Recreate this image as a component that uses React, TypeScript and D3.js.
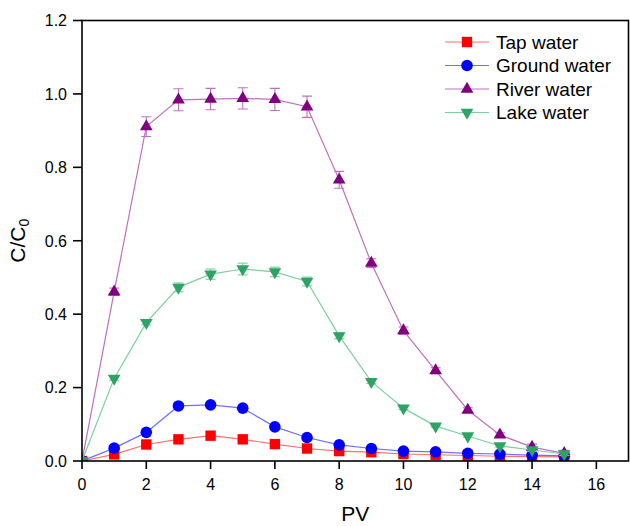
import React from "react";
import * as d3 from "d3";

const pv = [0, 1, 2, 3, 4, 5, 6, 7, 8, 9, 10, 11, 12, 13, 14, 15];
const tapWater = [0, 0.018, 0.045, 0.059, 0.069, 0.059, 0.046, 0.034, 0.027, 0.024, 0.019, 0.017, 0.015, 0.013, 0.012, 0.011];
const tapErr = [0, 0.002, 0.003, 0.003, 0.003, 0.003, 0.003, 0.003, 0.002, 0.002, 0.002, 0.004, 0.004, 0.004, 0.004, 0.004];
const groundWater = [0, 0.035, 0.078, 0.15, 0.153, 0.144, 0.093, 0.064, 0.044, 0.034, 0.027, 0.025, 0.021, 0.019, 0.016, 0.014];
const groundErr = [0, 0.002, 0.003, 0.004, 0.004, 0.004, 0.003, 0.003, 0.002, 0.002, 0.002, 0.002, 0.002, 0.002, 0.002, 0.002];
const riverWater = [0, 0.461, 0.911, 0.984, 0.986, 0.988, 0.985, 0.965, 0.766, 0.539, 0.355, 0.246, 0.139, 0.071, 0.038, 0.021];
const riverErr = [0, 0.01, 0.027, 0.03, 0.029, 0.029, 0.03, 0.029, 0.023, 0.012, 0.01, 0.008, 0.006, 0.006, 0.008, 0.008];
const lakeWater = [0, 0.225, 0.377, 0.473, 0.509, 0.523, 0.515, 0.489, 0.341, 0.216, 0.144, 0.095, 0.068, 0.041, 0.03, 0.019];
const lakeErr = [0, 0.005, 0.006, 0.012, 0.014, 0.016, 0.013, 0.012, 0.008, 0.005, 0.004, 0.003, 0.003, 0.003, 0.004, 0.004];

const xTicks = [0, 2, 4, 6, 8, 10, 12, 14, 16];
const yTicks = [0, 0.2, 0.4, 0.6, 0.8, 1.0, 1.2];

const seriesNames = ["Tap water", "Ground water", "River water", "Lake water"];

const W = 630;
const H = 526;
const left = 82;
const right = 628.5;
const top = 20.5;
const bottom = 461;
const font = "Arial, 'Liberation Sans', sans-serif";

type Series = {
  name: string;
  values: number[];
  err: number[];
  color: string;
  lineColor: string;
  shape: "square" | "circle" | "up" | "down";
};

const series: Series[] = [
  { name: seriesNames[0], values: tapWater, err: tapErr, color: "#ff0000", lineColor: "#ff7070", shape: "square" },
  { name: seriesNames[1], values: groundWater, err: groundErr, color: "#0000ff", lineColor: "#7070ff", shape: "circle" },
  { name: seriesNames[2], values: riverWater, err: riverErr, color: "#800080", lineColor: "#c070c0", shape: "up" },
  { name: seriesNames[3], values: lakeWater, err: lakeErr, color: "#2ea464", lineColor: "#7ccf9f", shape: "down" },
];

const triPath = d3.symbol().type(d3.symbolTriangle).size(70)() as string;

function Marker({ shape, x, y, color }: { shape: Series["shape"]; x: number; y: number; color: string }) {
  if (shape === "square") {
    return <rect x={x - 5.2} y={y - 5.2} width={10.4} height={10.4} fill={color} />;
  }
  if (shape === "circle") {
    return <circle cx={x} cy={y} r={5.8} fill={color} />;
  }
  if (shape === "up") {
    return <path d={triPath} transform={`translate(${x},${y})`} fill={color} />;
  }
  return <path d={triPath} transform={`translate(${x},${y}) rotate(180)`} fill={color} />;
}

export default function App() {
  const x = d3.scaleLinear().domain([0, 17]).range([left, right]);
  const y = d3.scaleLinear().domain([0, 1.2]).range([bottom, top]);
  const line = d3
    .line<number>()
    .x((_, i) => x(pv[i]))
    .y((d) => y(d));

  const legendY = [42, 65.5, 89, 112.5];

  return (
    <div style={{ position: "fixed", left: 0, top: 0 }}>
      <svg width={W} height={H} style={{ display: "block", background: "#fff" }} fontFamily={font}>
        <defs>
          <clipPath id="plotClip">
            <rect x={left} y={top} width={right - left} height={bottom - top} />
          </clipPath>
        </defs>
        <rect x={0} y={0} width={W} height={H} fill="#fff" />
        <g clipPath="url(#plotClip)">
          {series.map((s) => (
            <g key={s.name}>
              <path d={line(s.values) as string} fill="none" stroke={s.lineColor} strokeWidth={1.2} />
              {s.values.map((v, i) =>
                s.err[i] > 0 ? (
                  <g key={i} stroke={s.lineColor} strokeWidth={1.1}>
                    <line x1={x(pv[i])} x2={x(pv[i])} y1={y(v - s.err[i])} y2={y(v + s.err[i])} />
                    <line x1={x(pv[i]) - 5} x2={x(pv[i]) + 5} y1={y(v + s.err[i])} y2={y(v + s.err[i])} />
                    <line x1={x(pv[i]) - 5} x2={x(pv[i]) + 5} y1={y(v - s.err[i])} y2={y(v - s.err[i])} />
                  </g>
                ) : null
              )}
              {s.values.map((v, i) => (
                <Marker key={i} shape={s.shape} x={x(pv[i])} y={y(v)} color={s.color} />
              ))}
            </g>
          ))}
        </g>
        {/* frame */}
        <rect x={left} y={top} width={right - left} height={bottom - top} fill="none" stroke="#000" strokeWidth={1.6} />
        {/* x ticks */}
        {xTicks.map((t) => (
          <g key={t}>
            <line x1={x(t)} x2={x(t)} y1={bottom} y2={bottom + 8} stroke="#000" strokeWidth={1.6} />
            <text x={x(t)} y={490} textAnchor="middle" fontSize={16} fill="#000">
              {t}
            </text>
          </g>
        ))}
        {/* y ticks */}
        {yTicks.map((t) => (
          <g key={t}>
            <line x1={left - 9} x2={left} y1={y(t)} y2={y(t)} stroke="#000" strokeWidth={1.6} />
            <text x={67} y={y(t) + 5.8} textAnchor="end" fontSize={16} fill="#000">
              {t.toFixed(1)}
            </text>
          </g>
        ))}
        <text x={(left + right) / 2} y={521} textAnchor="middle" fontSize={21} fill="#000">
          PV
        </text>
        <text
          transform={`translate(25,${(top + bottom) / 2}) rotate(-90)`}
          textAnchor="middle"
          fontSize={21}
          fill="#000"
        >
          C/C<tspan fontSize={14} dy={4}>0</tspan>
        </text>
        {/* legend */}
        {series.map((s, i) => (
          <g key={s.name}>
            <line x1={445} x2={489} y1={legendY[i]} y2={legendY[i]} stroke={s.lineColor} strokeWidth={1.1} />
            <Marker shape={s.shape} x={467} y={legendY[i]} color={s.color} />
            <text x={496} y={legendY[i] + 6.8} fontSize={19} fill="#000">
              {s.name}
            </text>
          </g>
        ))}
      </svg>
    </div>
  );
}
